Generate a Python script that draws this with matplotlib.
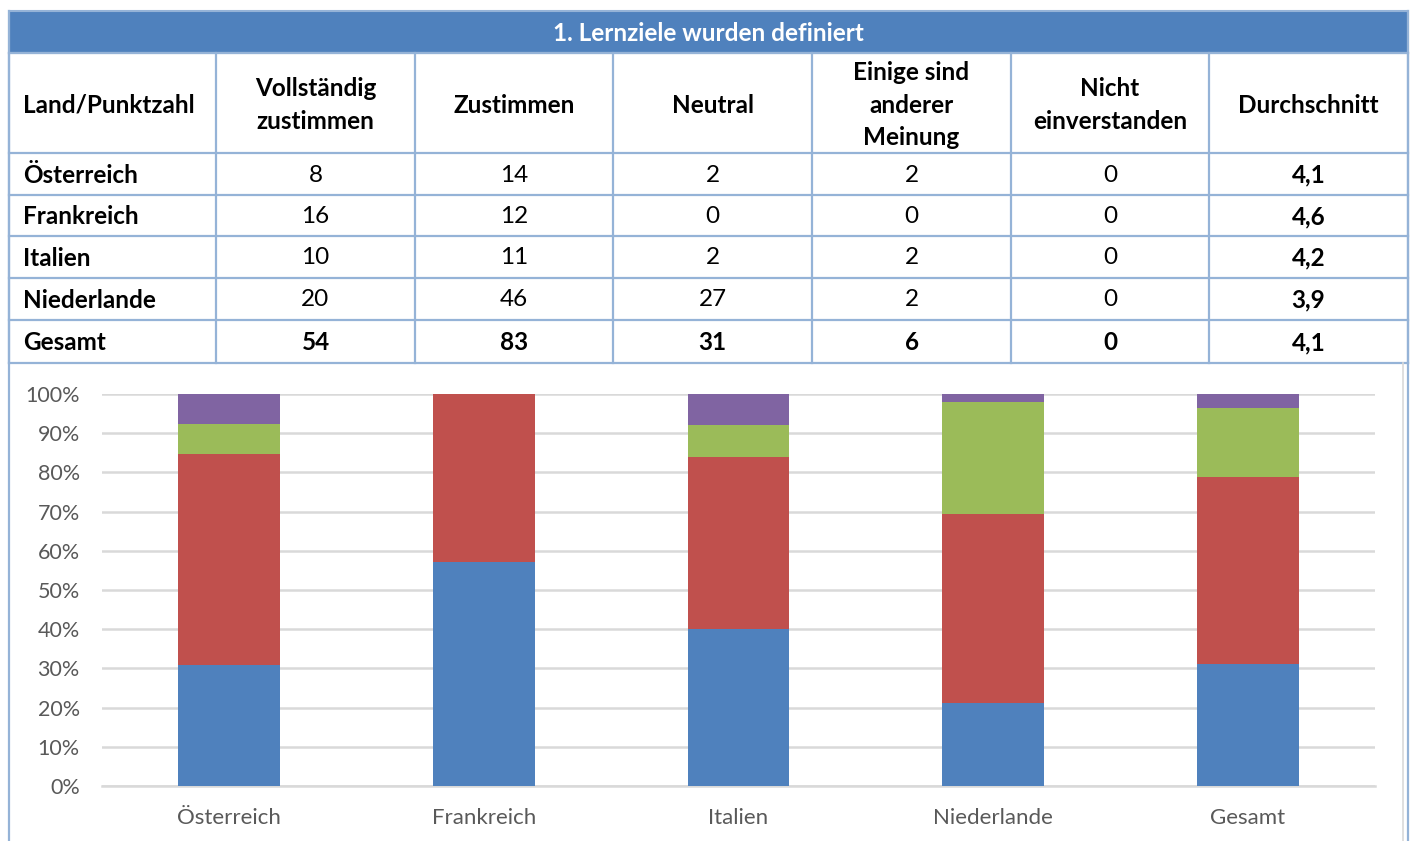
#!/usr/bin/env python3

"""Survey table plus 100% stacked bar chart."""

import matplotlib.pyplot as plt
import numpy as np
from matplotlib.patches import Rectangle

plt.rcParams["font.family"] = ["Lato", "DejaVu Sans"]

title = "1. Lernziele wurden definiert"
countries = ["Österreich", "Frankreich", "Italien", "Niederlande", "Gesamt"]
col_heads = ["Land/Punktzahl", "Vollständig\nzustimmen", "Zustimmen", "Neutral",
             "Einige sind\nanderer\nMeinung", "Nicht\neinverstanden", "Durchschnitt"]
voll = [8, 16, 10, 20, 54]
zust = [14, 12, 11, 46, 83]
neutral = [2, 0, 2, 27, 31]
einige = [2, 0, 2, 2, 6]
nicht = [0, 0, 0, 0, 0]
avg = ["4,1", "4,6", "4,2", "3,9", "4,1"]
ytick_labels = ["0%", "10%", "20%", "30%", "40%", "50%", "60%", "70%", "80%", "90%", "100%"]

blue, red, green, purple = "#4F81BD", "#C0504D", "#9BBB59", "#8064A2"
border = "#95B3D7"
fs = 17.5

W, H = 1411, 841
fig = plt.figure(figsize=(W / 100, H / 100), dpi=100)

# --- table drawn in pixel coordinates
tab = fig.add_axes([0, 0, 1, 1])
tab.set_xlim(0, W)
tab.set_ylim(H, 0)
tab.axis("off")

xs = [9, 216, 415, 613, 812, 1011, 1209, 1408]
ys = [53, 153, 195, 236, 278, 320, 363]

tab.add_patch(Rectangle((9, 11), 1399, 42, facecolor=blue, edgecolor=border, lw=1.5))
tab.text(708, 33, title, color="white", fontsize=17.5, fontweight="bold",
         ha="center", va="center")

for x in xs:
    tab.plot([x, x], [ys[0], ys[-1]], color=border, lw=1.6)
for y in ys:
    tab.plot([xs[0], xs[-1]], [y, y], color=border, lw=1.6)
# outer frame continuing around the chart
tab.plot([9, 9], [11, H], color=border, lw=1.6)
tab.plot([1408, 1408], [11, H], color=border, lw=1.6)
tab.plot([1403, 1403], [363, H], color="#D9D9D9", lw=1.2)

hy = (ys[0] + ys[1]) / 2 + 2
for i, head in enumerate(col_heads):
    if i == 0:
        tab.text(xs[0] + 14, hy, head, fontsize=fs, fontweight="bold",
                 ha="left", va="center")
    else:
        tab.text((xs[i] + xs[i + 1]) / 2, hy, head, fontsize=fs, fontweight="bold",
                 ha="center", va="center", linespacing=1.5)

rows = list(zip(voll, zust, neutral, einige, nicht, avg))
for r, (name, vals) in enumerate(zip(countries, rows)):
    cy = (ys[r + 1] + ys[r + 2]) / 2 + 1
    last = r == len(countries) - 1
    tab.text(xs[0] + 14, cy, name, fontsize=fs, fontweight="bold",
             ha="left", va="center")
    for c, v in enumerate(vals):
        bold = last or c == len(vals) - 1
        tab.text((xs[c + 1] + xs[c + 2]) / 2, cy, str(v), fontsize=fs,
                 fontweight="bold" if bold else "normal", ha="center", va="center")

# --- stacked 100% chart
ax = fig.add_axes([102 / W, (H - 786) / H, 1273 / W, 392 / H])
counts = np.array([voll, zust, neutral, einige, nicht], dtype=float)
shares = counts / counts.sum(axis=0)
x = np.arange(len(countries))
bottom = np.zeros(len(countries))
for share, col in zip(shares, [blue, red, green, purple, "#4BACC6"]):
    ax.bar(x, share, 0.4, bottom=bottom, color=col, zorder=3)
    bottom += share

ax.set_xlim(-0.5, len(countries) - 0.5)
ax.set_ylim(0, 1)
ax.set_yticks(np.linspace(0, 1, 11))
ax.set_yticklabels(ytick_labels)
ax.set_xticks(x)
ax.set_xticklabels(countries)
ax.grid(axis="y", color="#D9D9D9", lw=1.8, zorder=0)
ax.tick_params(axis="y", length=0, labelsize=15.5, labelcolor="#595959", pad=16)
ax.tick_params(axis="x", length=0, labelsize=16, labelcolor="#595959", pad=16)
for side in ["top", "right", "left"]:
    ax.spines[side].set_visible(False)
ax.spines["bottom"].set_color("#D9D9D9")
ax.spines["bottom"].set_linewidth(1.8)

plt.savefig("out.png", dpi=100)
